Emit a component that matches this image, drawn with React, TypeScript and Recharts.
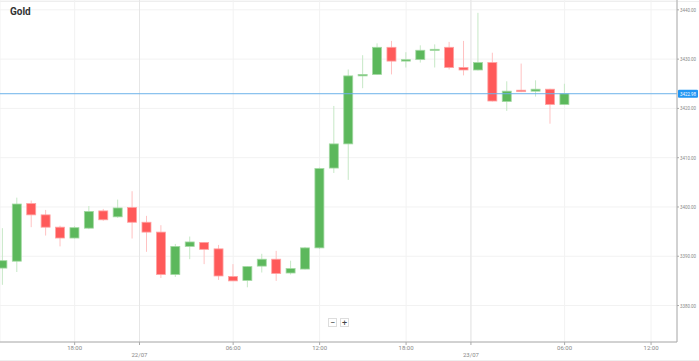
import React from 'react';
import { ComposedChart, Bar, XAxis, YAxis, CartesianGrid, ReferenceLine } from 'recharts';

// hourly candles, index = slot on the axis
const opens = [3387.6, 3389.0, 3400.7, 3398.4, 3395.9, 3393.7, 3395.7, 3399.2, 3398.0, 3399.9,
  3396.9, 3394.9, 3386.3, 3392.0, 3392.8, 3391.5, 3385.9, 3385.1, 3388.0, 3389.4,
  3386.6, 3387.4, 3391.7, 3407.9, 3412.8, 3426.6, 3426.9, 3432.4, 3429.6, 3429.9,
  3431.8, 3432.4, 3428.3, 3427.8, 3429.3, 3421.4, 3423.7, 3423.5, 3423.9, 3420.8];
const highs = [3395.7, 3401.9, 3401.3, 3399.4, 3396.2, 3396.1, 3400.2, 3399.6, 3401.5, 3403.2,
  3398.2, 3396.3, 3392.5, 3394.0, 3392.9, 3392.3, 3388.4, 3388.0, 3390.5, 3391.1,
  3389.1, 3391.9, 3408.0, 3420.5, 3427.9, 3430.8, 3433.2, 3433.7, 3431.4, 3432.8,
  3433.0, 3433.5, 3433.7, 3439.4, 3431.3, 3425.5, 3429.1, 3425.7, 3424.0, 3425.0];
const lows = [3384.2, 3386.8, 3395.9, 3394.2, 3392.0, 3393.6, 3395.5, 3397.2, 3397.8, 3393.6,
  3390.9, 3385.6, 3385.8, 3389.4, 3388.4, 3385.2, 3385.0, 3383.7, 3386.7, 3385.0,
  3386.3, 3387.3, 3391.5, 3406.9, 3405.5, 3424.1, 3426.8, 3426.9, 3428.3, 3429.3,
  3428.3, 3427.9, 3426.7, 3427.7, 3421.4, 3419.5, 3423.3, 3422.4, 3416.9, 3420.7];
const closes = [3389.1, 3400.6, 3398.4, 3395.9, 3393.7, 3395.8, 3399.1, 3397.4, 3399.8, 3396.9,
  3394.9, 3386.3, 3392.0, 3392.9, 3391.4, 3386.0, 3385.0, 3387.9, 3389.4, 3386.5,
  3387.5, 3391.7, 3407.8, 3412.8, 3426.6, 3426.9, 3432.4, 3429.6, 3429.9, 3431.8,
  3432.0, 3428.3, 3427.8, 3429.3, 3421.5, 3423.5, 3423.4, 3423.9, 3420.8, 3422.98];

const xTicks = [5, 9.5, 16, 22, 28, 32.5, 39, 45];
const xTickLabels = ['18:00', '22/07', '06:00', '12:00', '18:00', '23/07', '06:00', '12:00'];
const yTicks = [3380, 3390, 3400, 3410, 3420, 3430, 3440];
const lastPrice = 3422.98;

const GREEN = '#5cb85c';
const RED = '#ff5a5a';

const data = opens.map((o, i) => ({
  i,
  open: o,
  high: highs[i],
  low: lows[i],
  close: closes[i],
  range: [lows[i], highs[i]],
}));

const Candle = (props: any) => {
  const { x, y, width, height, payload } = props;
  if (!payload) return null;
  const { open, close, high, low } = payload;
  const up = close >= open;
  const top = Math.min(y, y + height);
  const h = Math.abs(height);
  const ppu = h / (high - low || 1);
  const yOf = (v: number) => top + (high - v) * ppu;
  const cx = x + width / 2;
  const bTop = yOf(Math.max(open, close));
  const bBot = yOf(Math.min(open, close));
  return (
    <g>
      <line x1={cx} x2={cx} y1={top} y2={top + h} stroke={up ? '#c6e8c6' : '#ffc2c2'} strokeWidth={1} />
      <rect
        x={cx - 4.5}
        y={bTop}
        width={9}
        height={Math.max(bBot - bTop, 1.2)}
        fill={up ? GREEN : RED}
        stroke={up ? '#a3d9a3' : '#ffa3a3'}
        strokeWidth={0.8}
      />
    </g>
  );
};

const XTick = (props: any) => {
  const { x, y, payload } = props;
  const idx = xTicks.indexOf(payload.value);
  const label = xTickLabels[idx] || '';
  const isDate = label.includes('/');
  return (
    <text x={x} y={isDate ? y + 10 : y + 3} textAnchor="middle" fontSize={6} fill="#888" fontFamily="Roboto">
      {label}
    </text>
  );
};

const YTick = (props: any) => {
  const { x, y, payload } = props;
  return (
    <text x={x} y={y + 2} fontSize={5.5} fill="#888" fontFamily="Roboto" textLength={16} lengthAdjust="spacingAndGlyphs">
      {Number(payload.value).toFixed(2)}
    </text>
  );
};

const PriceBadge = (props: any) => {
  const { viewBox } = props;
  if (!viewBox) return null;
  const bx = viewBox.x + viewBox.width + 1;
  const by = viewBox.y;
  return (
    <g>
      <rect x={bx} y={by - 4} width={20} height={8} rx={1} fill="#2196f3" />
      <text x={bx + 2} y={by + 2} fontSize={5.5} fill="#fff" fontFamily="Roboto" textLength={16} lengthAdjust="spacingAndGlyphs">
        {lastPrice.toFixed(2)}
      </text>
    </g>
  );
};

const btn: React.CSSProperties = {
  position: 'absolute',
  top: 318,
  width: 9,
  height: 9,
  border: '1px solid #ddd',
  background: '#fff',
  fontSize: 9,
  lineHeight: '8px',
  textAlign: 'center',
  color: '#444',
  boxSizing: 'border-box',
  fontFamily: 'Roboto',
};

export default function App() {
  return (
    <div style={{ position: 'absolute', left: 0, top: 0, width: 699, height: 361, background: '#fff', fontFamily: 'Roboto' }}>
      <div style={{ position: 'absolute', left: 0, top: 1, width: 699, height: 1, background: '#eee' }} />
      <div style={{ position: 'absolute', left: 0, top: 360, width: 699, height: 1, background: '#eee' }} />
      <ComposedChart width={699} height={361} data={data} margin={{ top: 0, right: 0, bottom: 0, left: 0 }}>
        <CartesianGrid stroke="#f2f2f2" />
        <XAxis
          dataKey="i"
          type="number"
          domain={[-0.18, 46.8]}
          allowDataOverflow
          ticks={xTicks}
          tick={<XTick />}
          height={19}
          tickSize={3}
          stroke="#aaa"
        />
        <YAxis
          orientation="right"
          domain={[3372.6, 3442.0]}
          allowDataOverflow
          ticks={yTicks}
          width={22}
          tickSize={2}
          tickMargin={1}
          stroke="#aaa"
          tick={<YTick />}
        />
        <ReferenceLine x={9.5} stroke="#e6e6e6" />
        <ReferenceLine x={32.5} stroke="#e6e6e6" />
        <Bar dataKey="range" barSize={10} shape={<Candle />} isAnimationActive={false} />
        <ReferenceLine y={lastPrice} stroke="#6cb2ea" label={<PriceBadge />} />
      </ComposedChart>
      <div style={{ position: 'absolute', left: 10, top: 6, fontSize: 10, fontWeight: 'bold', color: '#333' }}>Gold</div>
      <div style={{ ...btn, left: 328 }}>−</div>
      <div style={{ ...btn, left: 340 }}>+</div>
    </div>
  );
}
